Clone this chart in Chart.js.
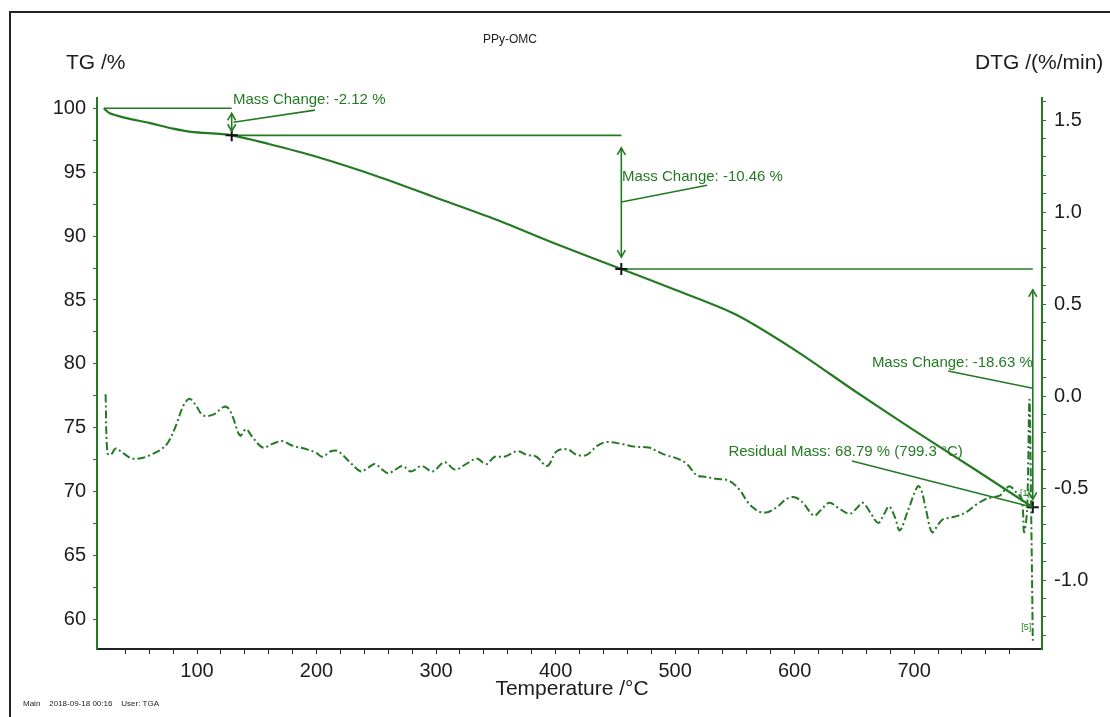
<!DOCTYPE html>
<html>
<head>
<meta charset="utf-8">
<script src="https://cdn.jsdelivr.net/npm/chart.js@4.4.1/dist/chart.umd.min.js"></script>
<style>
html, body { margin: 0; padding: 0; background: #fff; }
#wrap { width: 1110px; height: 717px; }
</style>
</head>
<body>
<div id="wrap"><canvas id="tga" width="1110" height="717"></canvas></div>
<script>
// PPy-OMC thermogravimetry: TG (solid) and DTG (dash-dot)

const tgTemp = [22, 27, 40, 60, 80, 95, 129, 160, 200, 250, 300, 350, 400, 455, 500, 550, 600, 650, 700, 750, 799.3];
const tgMass = [100.0, 99.6, 99.25, 98.85, 98.4, 98.15, 97.88, 97.2, 96.2, 94.7, 93.0, 91.3, 89.4, 87.42, 85.8, 83.9, 81.1, 77.9, 74.8, 71.8, 68.79];

const dtgTemp = [23.5, 25, 27.8, 32, 38, 46, 55, 61, 70, 76, 83, 88, 93.5, 99, 105, 114, 122, 126, 130, 136, 141, 146,
    155, 163, 171, 180, 192, 200, 205, 212, 218, 228, 237, 243, 249, 255, 260, 266, 272, 279, 288, 297, 307, 316,
    325, 334, 342, 349, 357, 368, 376, 384, 393, 401, 410, 418, 426, 435, 443, 455, 466, 478, 485, 492, 502, 510,
    518, 526, 534, 545, 554, 560, 564, 571, 578, 586, 593, 600, 607, 616, 622, 629, 637, 646, 652, 657, 664, 670,
    675, 679, 684, 688, 695, 703, 706, 710, 715, 720, 724, 731, 737, 744, 752, 760, 766, 772, 776, 780, 785, 790,
    792, 794.5, 796.5, 798, 799.3];
const dtgRate = [0.01, -0.31, -0.32, -0.285, -0.31, -0.34, -0.335, -0.32, -0.29, -0.25, -0.15, -0.06, -0.015, -0.05, -0.105, -0.10, -0.06, -0.065, -0.115, -0.215, -0.18, -0.22,
    -0.28, -0.26, -0.245, -0.27, -0.29, -0.31, -0.33, -0.30, -0.30, -0.36, -0.41, -0.39, -0.37, -0.40, -0.42, -0.40, -0.38, -0.41, -0.38, -0.41, -0.36, -0.40,
    -0.37, -0.34, -0.37, -0.33, -0.33, -0.30, -0.32, -0.33, -0.38, -0.30, -0.29, -0.32, -0.32, -0.27, -0.25, -0.26, -0.275, -0.28, -0.30, -0.32, -0.34, -0.37,
    -0.43, -0.44, -0.45, -0.46, -0.51, -0.57, -0.60, -0.63, -0.63, -0.60, -0.56, -0.55, -0.58, -0.65, -0.62, -0.58, -0.61, -0.64, -0.61, -0.58, -0.64, -0.69,
    -0.64, -0.60, -0.66, -0.73, -0.62, -0.49, -0.51, -0.62, -0.74, -0.70, -0.67, -0.66, -0.65, -0.63, -0.59, -0.56, -0.55, -0.54, -0.51, -0.49, -0.52, -0.56,
    -0.74, -0.62, -0.02, -0.66, -1.33];

const stepTemp = [129, 455, 799.3];
const stepMass = [97.88, 87.42, 68.79];
const stepText = ['Mass Change: -2.12 %', 'Mass Change: -10.46 %', 'Mass Change: -18.63 %'];
const residualText = 'Residual Mass: 68.79 % (799.3 °C)';

const tempTicks = [100, 200, 300, 400, 500, 600, 700];
const tempMinor = [40, 60, 80, 120, 140, 160, 180, 220, 240, 260, 280, 320, 340, 360, 380, 420, 440, 460, 480,
    520, 540, 560, 580, 620, 640, 660, 680, 720, 740, 760, 780];
const tgTicks = [60, 65, 70, 75, 80, 85, 90, 95, 100];
const tgMinor = [62.5, 67.5, 72.5, 77.5, 82.5, 87.5, 92.5, 97.5];
const dtgTicks = [-1.0, -0.5, 0.0, 0.5, 1.0, 1.5];
const dtgMinor = [-1.3, -1.2, -1.1, -0.9, -0.8, -0.7, -0.6, -0.4, -0.3, -0.2, -0.1, 0.1, 0.2, 0.3, 0.4, 0.6, 0.7, 0.8, 0.9, 1.1, 1.2, 1.3, 1.4, 1.6];

const GREEN = '#237a23';
const INK = '#1c1c1c';

function pts(xs, ys) {
    return xs.map(function (v, i) { return { x: v, y: ys[i] }; });
}

function setTicks(major, minor) {
    return function (scale) {
        scale.ticks = major.concat(minor).sort(function (a, b) { return a - b; })
            .map(function (v) { return { value: v }; });
    };
}

// the three reference levels of the step analysis
const levelLines = [
    pts([tgTemp[0], stepTemp[0]], [tgMass[0], tgMass[0]]),
    pts([stepTemp[0], stepTemp[1]], [stepMass[0], stepMass[0]]),
    pts([stepTemp[1], stepTemp[2]], [stepMass[1], stepMass[1]])
];

function arrowHead(ctx, x, y, dir) {
    ctx.beginPath();
    ctx.moveTo(x - 4, y + dir * 7);
    ctx.lineTo(x, y);
    ctx.lineTo(x + 4, y + dir * 7);
    ctx.stroke();
}

const tgaDecor = {
    id: 'tgaDecor',
    beforeDraw: function (chart) {
        const ctx = chart.ctx;
        ctx.save();
        ctx.fillStyle = '#fff';
        ctx.fillRect(0, 0, chart.width, chart.height);
        ctx.strokeStyle = '#222';
        ctx.lineWidth = 2;
        ctx.strokeRect(10, 12, chart.width + 20, chart.height + 20);
        ctx.restore();
    },
    afterDatasetsDraw: function (chart) {
        const ctx = chart.ctx;
        const x = chart.scales.x;
        const y = chart.scales.y;
        const X = function (v) { return x.getPixelForValue(v); };
        const Y = function (v) { return y.getPixelForValue(v); };

        ctx.save();
        ctx.strokeStyle = GREEN;
        ctx.fillStyle = GREEN;
        ctx.lineWidth = 1.6;

        // double arrows between the levels
        const arrows = [[stepTemp[0], 99.6, 98.2], [stepTemp[1], 96.9, 88.35], [stepTemp[2], 85.8, 69.4]];
        arrows.forEach(function (a) {
            const ax = X(a[0]), y1 = Y(a[1]), y2 = Y(a[2]);
            ctx.beginPath();
            ctx.moveTo(ax, y1);
            ctx.lineTo(ax, y2);
            ctx.stroke();
            arrowHead(ctx, ax, y1, 1);
            arrowHead(ctx, ax, y2, -1);
        });

        // leader lines from arrows to their labels
        const leaders = [
            [130.5, 98.9, 198.7, 99.85],
            [455, 92.66, 526.8, 93.98],
            [799.3, 78.1, 728.5, 79.45],
            [648, 72.4, 799.3, 68.79]
        ];
        leaders.forEach(function (l) {
            ctx.beginPath();
            ctx.moveTo(X(l[0]), Y(l[1]));
            ctx.lineTo(X(l[2]), Y(l[3]));
            ctx.stroke();
        });

        ctx.font = '15px "Liberation Sans", Arial, sans-serif';
        ctx.textBaseline = 'middle';
        ctx.textAlign = 'left';
        ctx.fillText(stepText[0], X(130), Y(100.62));
        ctx.fillText(stepText[1], X(455.6), Y(94.6));
        ctx.fillText(residualText, X(544.6), Y(73.1));
        ctx.textAlign = 'right';
        ctx.fillText(stepText[2], X(799.3), Y(80.1));

        ctx.font = '9px "Liberation Sans", Arial, sans-serif';
        ctx.textAlign = 'right';
        ctx.fillText('[1]', X(797), Y(69.9));
        ctx.fillText('[5]', X(798), Y(59.4));
        ctx.restore();
    },
    afterDraw: function (chart) {
        const ctx = chart.ctx;
        ctx.save();
        ctx.fillStyle = INK;
        ctx.textBaseline = 'middle';
        ctx.font = '12px "Liberation Sans", Arial, sans-serif';
        ctx.textAlign = 'center';
        ctx.fillText('PPy-OMC', 510, 40);
        ctx.font = '21px "Liberation Sans", Arial, sans-serif';
        ctx.textAlign = 'left';
        ctx.fillText('TG /%', 66, 63);
        ctx.fillText('DTG /(%/min)', 975, 63);
        ctx.textAlign = 'center';
        ctx.fillText('Temperature /\u00B0C', 572, 689);
        ctx.font = '8px "Liberation Sans", Arial, sans-serif';
        ctx.textAlign = 'left';
        ctx.fillText('Main    2018-09-18 00:16    User: TGA', 23, 704);
        ctx.restore();
    }
};

Chart.defaults.font.family = '"Liberation Sans", Arial, sans-serif';
Chart.defaults.font.size = 20;
Chart.defaults.color = INK;

const datasets = [
    {
        label: 'TG',
        data: pts(tgTemp, tgMass),
        yAxisID: 'y',
        borderColor: GREEN,
        borderWidth: 2.2,
        pointRadius: 0,
        tension: 0.3,
        order: 2
    },
    {
        label: 'DTG',
        data: pts(dtgTemp, dtgRate),
        yAxisID: 'y2',
        borderColor: GREEN,
        borderWidth: 2,
        borderDash: [8, 3, 2, 3],
        pointRadius: 0,
        tension: 0.35,
        order: 3
    },
    {
        label: 'steps',
        data: pts(stepTemp, stepMass),
        yAxisID: 'y',
        showLine: false,
        pointStyle: 'cross',
        pointRadius: 6,
        borderColor: '#111',
        borderWidth: 2,
        order: 0
    }
];
levelLines.forEach(function (seg) {
    datasets.push({
        data: seg,
        yAxisID: 'y',
        borderColor: GREEN,
        borderWidth: 1.6,
        pointRadius: 0,
        order: 1
    });
});

new Chart(document.getElementById('tga'), {
    type: 'line',
    data: { datasets: datasets },
    plugins: [tgaDecor],
    options: {
        responsive: false,
        animation: false,
        devicePixelRatio: 1,
        layout: { padding: { top: 98, left: 0, right: 0, bottom: 0 } },
        plugins: {
            legend: { display: false },
            tooltip: { enabled: false },
            title: { display: false }
        },
        scales: {
            x: {
                type: 'linear',
                min: 16.3,
                max: 807,
                afterFit: function (s) { s.height = 68; },
                afterBuildTicks: setTicks(tempTicks, tempMinor),
                border: { color: '#222', width: 2 },
                grid: { drawOnChartArea: false, drawTicks: true, tickLength: 5, color: '#222' },
                ticks: {
                    padding: 5,
                    maxRotation: 0,
                    autoSkip: false,
                    callback: function (v) { return tempTicks.indexOf(v) >= 0 ? String(v) : ''; }
                }
            },
            y: {
                type: 'linear',
                position: 'left',
                min: 57.7,
                max: 100.8,
                afterFit: function (s) { s.width = 97; },
                afterBuildTicks: setTicks(tgTicks, tgMinor),
                border: { color: GREEN, width: 2 },
                grid: { drawOnChartArea: false, drawTicks: true, tickLength: 4, color: GREEN },
                ticks: {
                    padding: 7,
                    autoSkip: false,
                    callback: function (v) { return tgTicks.indexOf(v) >= 0 ? String(v) : ''; }
                }
            },
            y2: {
                type: 'linear',
                position: 'right',
                min: -1.375,
                max: 1.62,
                afterFit: function (s) { s.width = 68; },
                afterBuildTicks: setTicks(dtgTicks, dtgMinor),
                border: { color: GREEN, width: 2 },
                grid: { drawOnChartArea: false, drawTicks: true, tickLength: 4, color: GREEN },
                ticks: {
                    padding: 8,
                    autoSkip: false,
                    callback: function (v) { return dtgTicks.indexOf(v) >= 0 ? v.toFixed(1) : ''; }
                }
            }
        }
    }
});
</script>
</body>
</html>
